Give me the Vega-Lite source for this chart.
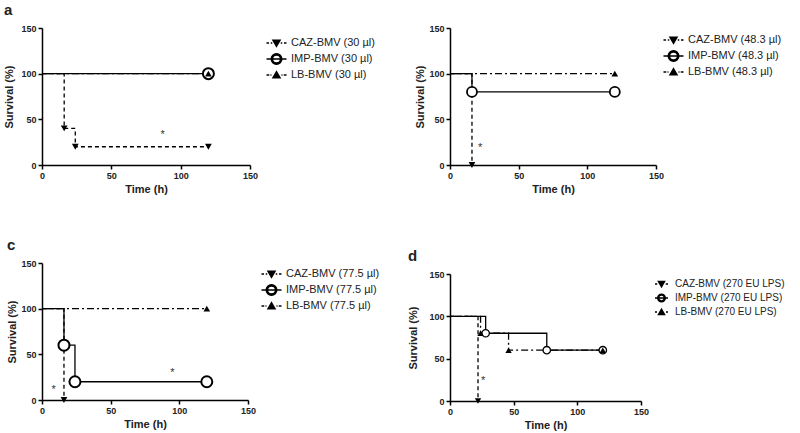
{
  "$schema": "https://vega.github.io/schema/vega-lite/v6.json",
  "background": "white",
  "padding": {"left": 3, "top": 3, "right": 0, "bottom": 3},
  "datasets": {
    "a": [
      {"k": "CAZ", "g": "CAZ-BMV (30 µl)", "t": 0, "s": 100, "m": 0}, {"k": "CAZ", "g": "CAZ-BMV (30 µl)", "t": 16, "s": 40, "m": 1}, {"k": "CAZ", "g": "CAZ-BMV (30 µl)", "t": 24, "s": 20, "m": 1}, {"k": "CAZ", "g": "CAZ-BMV (30 µl)", "t": 120, "s": 20, "m": 1},
      {"k": "IMP", "g": "IMP-BMV (30 µl)", "t": 0, "s": 100, "m": 0}, {"k": "IMP", "g": "IMP-BMV (30 µl)", "t": 120, "s": 100, "m": 1},
      {"k": "LB", "g": "LB-BMV (30 µl)", "t": 0, "s": 100, "m": 0}, {"k": "LB", "g": "LB-BMV (30 µl)", "t": 120, "s": 100, "m": 1}
    ],
    "b": [
      {"k": "CAZ", "g": "CAZ-BMV (48.3 µl)", "t": 0, "s": 100, "m": 0}, {"k": "CAZ", "g": "CAZ-BMV (48.3 µl)", "t": 16, "s": 0, "m": 1},
      {"k": "IMP", "g": "IMP-BMV (48.3 µl)", "t": 0, "s": 100, "m": 0}, {"k": "IMP", "g": "IMP-BMV (48.3 µl)", "t": 16, "s": 80, "m": 1}, {"k": "IMP", "g": "IMP-BMV (48.3 µl)", "t": 120, "s": 80, "m": 1},
      {"k": "LB", "g": "LB-BMV (48.3 µl)", "t": 0, "s": 100, "m": 0}, {"k": "LB", "g": "LB-BMV (48.3 µl)", "t": 120, "s": 100, "m": 1}
    ],
    "c": [
      {"k": "CAZ", "g": "CAZ-BMV (77.5 µl)", "t": 0, "s": 100, "m": 0}, {"k": "CAZ", "g": "CAZ-BMV (77.5 µl)", "t": 16, "s": 0, "m": 1},
      {"k": "IMP", "g": "IMP-BMV (77.5 µl)", "t": 0, "s": 100, "m": 0}, {"k": "IMP", "g": "IMP-BMV (77.5 µl)", "t": 16, "s": 60, "m": 1}, {"k": "IMP", "g": "IMP-BMV (77.5 µl)", "t": 24, "s": 20, "m": 1}, {"k": "IMP", "g": "IMP-BMV (77.5 µl)", "t": 120, "s": 20, "m": 1},
      {"k": "LB", "g": "LB-BMV (77.5 µl)", "t": 0, "s": 100, "m": 0}, {"k": "LB", "g": "LB-BMV (77.5 µl)", "t": 120, "s": 100, "m": 1}
    ],
    "d": [
      {"k": "CAZ", "g": " CAZ-BMV (270 EU LPS)", "t": 0, "s": 100, "m": 0}, {"k": "CAZ", "g": " CAZ-BMV (270 EU LPS)", "t": 22, "s": 0, "m": 1},
      {"k": "IMP", "g": "IMP-BMV (270 EU LPS)", "t": 0, "s": 100, "m": 0}, {"k": "IMP", "g": "IMP-BMV (270 EU LPS)", "t": 28, "s": 80, "m": 1}, {"k": "IMP", "g": "IMP-BMV (270 EU LPS)", "t": 76, "s": 60, "m": 1}, {"k": "IMP", "g": "IMP-BMV (270 EU LPS)", "t": 120, "s": 60, "m": 1},
      {"k": "LB", "g": "LB-BMV (270 EU LPS)", "t": 0, "s": 100, "m": 0}, {"k": "LB", "g": "LB-BMV (270 EU LPS)", "t": 24, "s": 80, "m": 1}, {"k": "LB", "g": "LB-BMV (270 EU LPS)", "t": 46, "s": 60, "m": 1}, {"k": "LB", "g": "LB-BMV (270 EU LPS)", "t": 120, "s": 60, "m": 1}
    ]
  },
  "spacing": 22,
  "resolve": {"scale": {"x": "independent", "y": "independent", "shape": "independent", "strokeDash": "independent"}, "legend": {"shape": "independent"}},
  "hconcat": [
    {
      "spacing": 44,
      "resolve": {"scale": {"x": "independent", "y": "independent", "shape": "independent", "strokeDash": "independent"}, "legend": {"shape": "independent"}},
      "vconcat": [
        {
          "title": {"text": "a"},
          "width": 208, "height": 137,
          "data": {"name": "a"},
          "encoding": {
            "x": {"field": "t", "type": "quantitative", "scale": {"domain": [0, 150], "nice": false}, "axis": {"values": [0, 50, 100, 150], "title": "Time (h)"}},
            "y": {"field": "s", "type": "quantitative", "scale": {"domain": [0, 150], "nice": false}, "axis": {"values": [0, 50, 100, 150], "title": "Survival (%)", "titlePadding": 6}}
          },
          "layer": [
            {"mark": {"type": "line", "interpolate": "step-after", "color": "black", "strokeWidth": 1.3},
             "encoding": {"detail": {"field": "k"}, "strokeDash": {"field": "k", "type": "nominal", "scale": {"domain": ["CAZ", "IMP", "LB"], "range": [[4, 3], [1, 0], [7, 3, 2, 3]]}, "legend": null}}},
            {"transform": [{"filter": "datum.m == 1 && datum.k == 'CAZ'"}], "mark": {"type": "point", "shape": "triangle-down", "filled": true, "color": "black", "size": 45, "opacity": 1}},
            {"transform": [{"filter": "datum.m == 1 && datum.k == 'IMP'"}], "mark": {"type": "point", "shape": "circle", "filled": true, "fill": "white", "stroke": "black", "strokeWidth": 2, "size": 121, "opacity": 1}},
            {"transform": [{"filter": "datum.m == 1 && datum.k == 'LB'"}], "mark": {"type": "point", "shape": "triangle-up", "filled": true, "color": "black", "size": 45, "opacity": 1}},
            {"transform": [{"filter": "datum.m > 5"}], "mark": {"type": "point", "filled": true, "fill": "black", "stroke": "black", "strokeWidth": 1.2, "opacity": 1},
             "encoding": {"shape": {"field": "g", "type": "nominal", "scale": {"domain": ["CAZ-BMV (30 µl)", "IMP-BMV (30 µl)", "LB-BMV (30 µl)"], "range": [
               "M-2.3,0H-1.8M-1.45,0H-1.15M0.55,0H0.85M1.2,0H1.7M-1,-0.55H0.4L-0.3,0.65Z",
               "M-2.3,0H1.7M0.75,0A1.05,1.05 0 1 1 -1.35,0A1.05,1.05 0 1 1 0.75,0ZM0.5,0A0.8,0.8 0 1 0 -1.1,0A0.8,0.8 0 1 0 0.5,0Z",
               "M-2.3,0H-1.75M-1.5,0H-1.3M0.7,0H0.9M1.15,0H1.7M-1,0.55H0.4L-0.3,-0.65Z"]},
               "legend": {"title": null, "labelFontSize": 11, "rowPadding": 0, "padding": 9, "offset": 3, "labelOffset": 7, "encode": {"symbols": {"update": {"stroke": {"value": "black"}, "fill": {"value": "black"}, "strokeWidth": {"value": 1.2}, "opacity": {"value": 1}}}}}}}},
            {"data": {"values": [{"t": 87, "s": 36}]}, "mark": {"type": "text", "text": "*", "fontSize": 11, "fill": "#333", "dy": 3}}
          ]
        },
        {
          "title": {"text": "c"},
          "width": 206, "height": 137,
          "data": {"name": "c"},
          "encoding": {
            "x": {"field": "t", "type": "quantitative", "scale": {"domain": [0, 150], "nice": false}, "axis": {"values": [0, 50, 100, 150], "title": "Time (h)"}},
            "y": {"field": "s", "type": "quantitative", "scale": {"domain": [0, 150], "nice": false}, "axis": {"values": [0, 50, 100, 150], "title": "Survival (%)"}}
          },
          "layer": [
            {"mark": {"type": "line", "interpolate": "step-after", "color": "black", "strokeWidth": 1.3},
             "encoding": {"detail": {"field": "k"}, "strokeDash": {"field": "k", "type": "nominal", "scale": {"domain": ["CAZ", "IMP", "LB"], "range": [[4, 3], [1, 0], [7, 3, 2, 3]]}, "legend": null}}},
            {"transform": [{"filter": "datum.m == 1 && datum.k == 'CAZ'"}], "mark": {"type": "point", "shape": "triangle-down", "filled": true, "color": "black", "size": 45, "opacity": 1}},
            {"transform": [{"filter": "datum.m == 1 && datum.k == 'IMP'"}], "mark": {"type": "point", "shape": "circle", "filled": true, "fill": "white", "stroke": "black", "strokeWidth": 2, "size": 121, "opacity": 1}},
            {"transform": [{"filter": "datum.m == 1 && datum.k == 'LB'"}], "mark": {"type": "point", "shape": "triangle-up", "filled": true, "color": "black", "size": 45, "opacity": 1}},
            {"transform": [{"filter": "datum.m > 5"}], "mark": {"type": "point", "filled": true, "fill": "black", "stroke": "black", "strokeWidth": 1.2, "opacity": 1},
             "encoding": {"shape": {"field": "g", "type": "nominal", "scale": {"domain": ["CAZ-BMV (77.5 µl)", "IMP-BMV (77.5 µl)", "LB-BMV (77.5 µl)"], "range": [
               "M-2.3,0H-1.8M-1.45,0H-1.15M0.55,0H0.85M1.2,0H1.7M-1,-0.55H0.4L-0.3,0.65Z",
               "M-2.3,0H1.7M0.75,0A1.05,1.05 0 1 1 -1.35,0A1.05,1.05 0 1 1 0.75,0ZM0.5,0A0.8,0.8 0 1 0 -1.1,0A0.8,0.8 0 1 0 0.5,0Z",
               "M-2.3,0H-1.75M-1.5,0H-1.3M0.7,0H0.9M1.15,0H1.7M-1,0.55H0.4L-0.3,-0.65Z"]},
               "legend": {"title": null, "labelFontSize": 11, "rowPadding": 0, "padding": 5, "offset": 4, "labelOffset": 7, "encode": {"symbols": {"update": {"stroke": {"value": "black"}, "fill": {"value": "black"}, "strokeWidth": {"value": 1.2}, "opacity": {"value": 1}}}}}}}},
            {"data": {"values": [{"t": 8.5, "s": 14}, {"t": 95, "s": 33}]}, "mark": {"type": "text", "text": "*", "fontSize": 11, "fill": "#333", "dy": 3}}
          ]
        }
      ]
    },
    {
      "spacing": 55,
      "resolve": {"scale": {"x": "independent", "y": "independent", "shape": "independent", "strokeDash": "independent"}, "legend": {"shape": "independent"}},
      "vconcat": [
        {
          "title": {"text": " "},
          "width": 206, "height": 137,
          "data": {"name": "b"},
          "encoding": {
            "x": {"field": "t", "type": "quantitative", "scale": {"domain": [0, 150], "nice": false}, "axis": {"values": [0, 50, 100, 150], "title": "Time (h)"}},
            "y": {"field": "s", "type": "quantitative", "scale": {"domain": [0, 150], "nice": false}, "axis": {"values": [0, 50, 100, 150], "title": "Survival (%)"}}
          },
          "layer": [
            {"mark": {"type": "line", "interpolate": "step-after", "color": "black", "strokeWidth": 1.3},
             "encoding": {"detail": {"field": "k"}, "strokeDash": {"field": "k", "type": "nominal", "scale": {"domain": ["CAZ", "IMP", "LB"], "range": [[4, 3], [1, 0], [7, 3, 2, 3]]}, "legend": null}}},
            {"transform": [{"filter": "datum.m == 1 && datum.k == 'CAZ'"}], "mark": {"type": "point", "shape": "triangle-down", "filled": true, "color": "black", "size": 45, "opacity": 1}},
            {"transform": [{"filter": "datum.m == 1 && datum.k == 'IMP'"}], "mark": {"type": "point", "shape": "circle", "filled": true, "fill": "white", "stroke": "black", "strokeWidth": 1.8, "size": 100, "opacity": 1}},
            {"transform": [{"filter": "datum.m == 1 && datum.k == 'LB'"}], "mark": {"type": "point", "shape": "triangle-up", "filled": true, "color": "black", "size": 45, "opacity": 1}},
            {"transform": [{"filter": "datum.m > 5"}], "mark": {"type": "point", "filled": true, "fill": "black", "stroke": "black", "strokeWidth": 1.2, "opacity": 1},
             "encoding": {"shape": {"field": "g", "type": "nominal", "scale": {"domain": ["CAZ-BMV (48.3 µl)", "IMP-BMV (48.3 µl)", "LB-BMV (48.3 µl)"], "range": [
               "M-2.3,0H-1.8M-1.45,0H-1.15M0.55,0H0.85M1.2,0H1.7M-1,-0.55H0.4L-0.3,0.65Z",
               "M-2.3,0H1.7M0.75,0A1.05,1.05 0 1 1 -1.35,0A1.05,1.05 0 1 1 0.75,0ZM0.5,0A0.8,0.8 0 1 0 -1.1,0A0.8,0.8 0 1 0 0.5,0Z",
               "M-2.3,0H-1.75M-1.5,0H-1.3M0.7,0H0.9M1.15,0H1.7M-1,0.55H0.4L-0.3,-0.65Z"]},
               "legend": {"title": null, "labelFontSize": 11, "rowPadding": 0, "padding": 6, "offset": -3, "labelOffset": 7, "encode": {"symbols": {"update": {"stroke": {"value": "black"}, "fill": {"value": "black"}, "strokeWidth": {"value": 1.2}, "opacity": {"value": 1}}}}}}}},
            {"data": {"values": [{"t": 22, "s": 22}]}, "mark": {"type": "text", "text": "*", "fontSize": 11, "fill": "#333", "dy": 3}}
          ]
        },
        {
          "title": {"text": "d"},
          "width": 191, "height": 127,
          "data": {"name": "d"},
          "encoding": {
            "x": {"field": "t", "type": "quantitative", "scale": {"domain": [0, 150], "nice": false}, "axis": {"values": [0, 50, 100, 150], "title": "Time (h)"}},
            "y": {"field": "s", "type": "quantitative", "scale": {"domain": [0, 150], "nice": false}, "axis": {"values": [0, 50, 100, 150], "title": "Survival (%)", "titlePadding": 10}}
          },
          "layer": [
            {"mark": {"type": "line", "interpolate": "step-after", "color": "black", "strokeWidth": 1.3},
             "encoding": {"detail": {"field": "k"}, "strokeDash": {"field": "k", "type": "nominal", "scale": {"domain": ["CAZ", "IMP", "LB"], "range": [[4, 3], [1, 0], [7, 3, 2, 3]]}, "legend": null}}},
            {"transform": [{"filter": "datum.m == 1 && datum.k == 'CAZ'"}], "mark": {"type": "point", "shape": "triangle-down", "filled": true, "color": "black", "size": 40, "opacity": 1}},
            {"transform": [{"filter": "datum.m == 1 && datum.k == 'IMP'"}], "mark": {"type": "point", "shape": "circle", "filled": true, "fill": "white", "stroke": "black", "strokeWidth": 1.3, "size": 55, "opacity": 1}},
            {"transform": [{"filter": "datum.m == 1 && datum.k == 'LB'"}], "mark": {"type": "point", "shape": "triangle-up", "filled": true, "color": "black", "size": 40, "opacity": 1}},
            {"transform": [{"filter": "datum.m > 5"}], "mark": {"type": "point", "filled": true, "fill": "black", "stroke": "black", "strokeWidth": 1.2, "opacity": 1},
             "encoding": {"shape": {"field": "g", "type": "nominal", "scale": {"domain": [" CAZ-BMV (270 EU LPS)", "IMP-BMV (270 EU LPS)", "LB-BMV (270 EU LPS)"], "range": [
               "M-2.6,0H-2.15M-0.45,0H0M-1.9,-0.5H-0.7L-1.3,0.55Z",
               "M-2.6,0H0M-0.55,0A0.75,0.75 0 1 1 -2.05,0A0.75,0.75 0 1 1 -0.55,0ZM-0.72,0A0.58,0.58 0 1 0 -1.88,0A0.58,0.58 0 1 0 -0.72,0Z",
               "M-2.6,0H-2.2M-0.4,0H0M-1.9,0.5H-0.7L-1.3,-0.55Z"]},
               "legend": {"title": null, "labelFontSize": 10, "rowPadding": 1, "padding": 4, "offset": 7, "labelOffset": 1, "encode": {"symbols": {"update": {"stroke": {"value": "black"}, "fill": {"value": "black"}, "strokeWidth": {"value": 1.2}, "opacity": {"value": 1}}}}}}}},
            {"data": {"values": [{"t": 26, "s": 27}]}, "mark": {"type": "text", "text": "*", "fontSize": 11, "fill": "#333", "dy": 3}}
          ]
        }
      ]
    }
  ],
  "config": {
    "font": "Liberation Sans",
    "view": {"stroke": null},
    "axis": {"grid": false, "domainColor": "black", "domainWidth": 1.5, "tickColor": "black", "tickWidth": 1.5, "tickSize": 4, "labelFontWeight": "bold", "labelFontSize": 9, "labelColor": "#222", "labelFlush": false, "titleFontWeight": "bold", "titleFontSize": 11, "titleColor": "#222", "labelPadding": 2, "titlePadding": 3},
    "title": {"anchor": "start", "frame": "bounds", "fontSize": 15, "fontWeight": "bold", "color": "#222", "offset": 6},
    "legend": {"orient": "right", "symbolSize": 100, "symbolOffset": 10, "labelColor": "#222", "labelLimit": 0}
  }
}
